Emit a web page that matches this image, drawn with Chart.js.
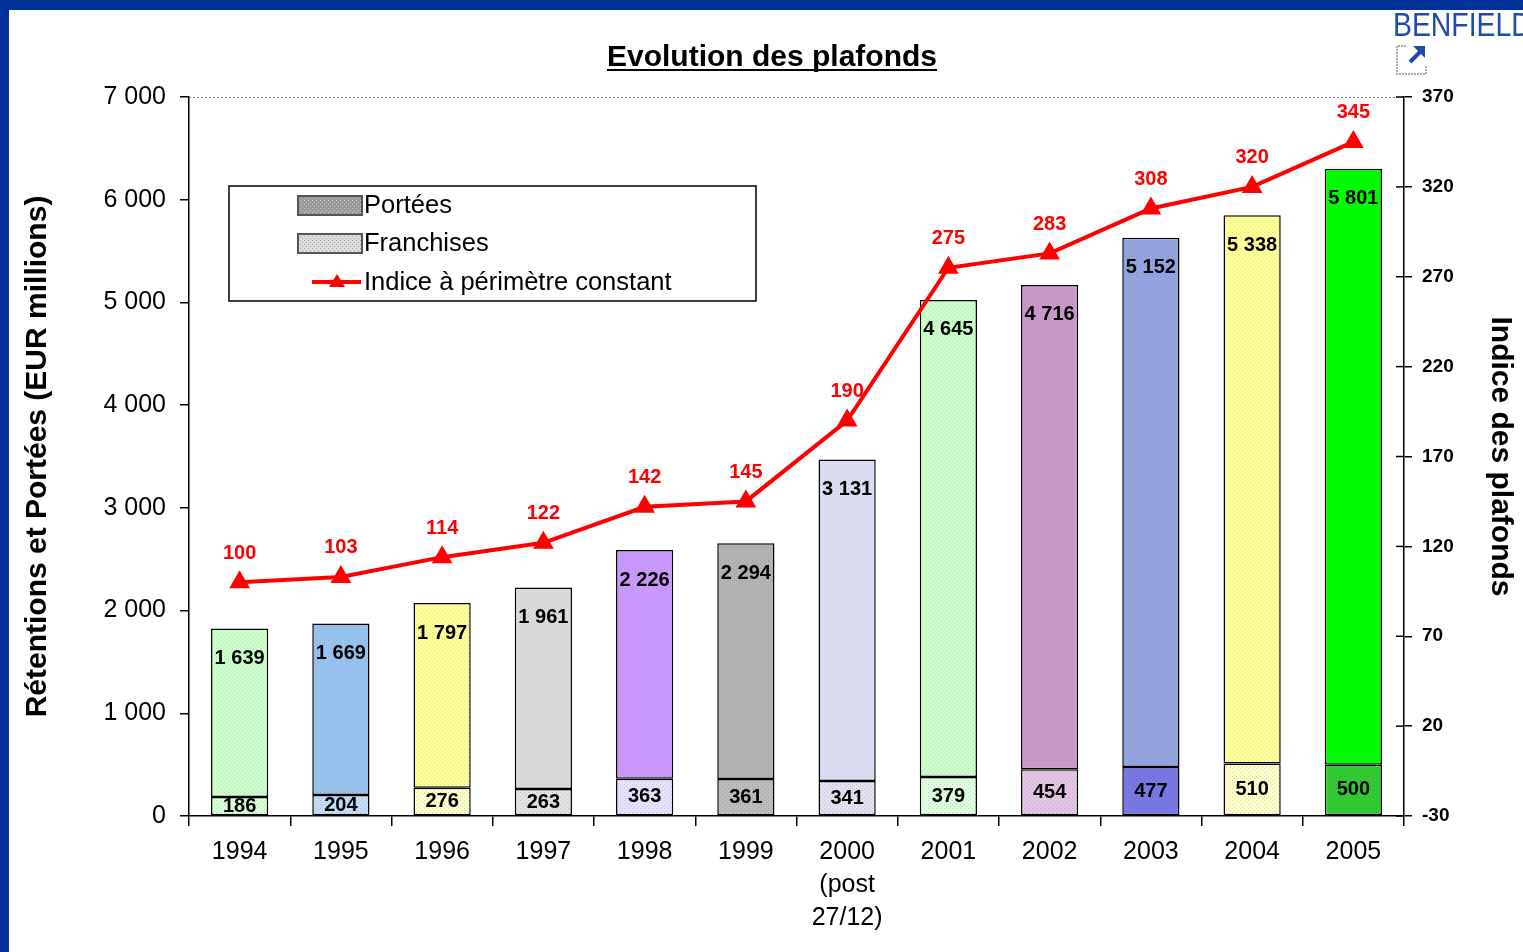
<!DOCTYPE html>
<html>
<head>
<meta charset="utf-8">
<script src="https://cdn.jsdelivr.net/npm/chart.js@4"></script>
<style>
  html, body { margin: 0; padding: 0; background: #fff; }
  canvas { display: block; }
</style>
</head>
<body>
<canvas id="chart" width="1523" height="952"></canvas>
<script>
// --- DATA ---
const years = ["1994", "1995", "1996", "1997", "1998", "1999", ["2000", "(post", "27/12)"], "2001", "2002", "2003", "2004", "2005"];
const franchises = [186, 204, 276, 263, 363, 361, 341, 379, 454, 477, 510, 500];
const portees = [1639, 1669, 1797, 1961, 2226, 2294, 3131, 4645, 4716, 5152, 5338, 5801];
const indice = [100, 103, 114, 122, 142, 145, 190, 275, 283, 308, 320, 345];

// couleurs de chaque barre (haut = portées, bas = franchises)
const topColors = ["#ccffcc", "#99c4f0", "#ffff99", "#dcdcdc", "#cc99ff", "#b4b4b4", "#dcdff5", "#ccffcc", "#cc99cc", "#94a6e0", "#ffff99", "#00ff00"];
const bottomColors = ["#d8ffd8", "#c4ddf8", "#ffffcc", "#e2e2e2", "#e8e2ff", "#bdbdbd", "#e2e2f2", "#e0ffe0", "#e6c6e6", "#7a7ae6", "#ffffcc", "#33cc33"];

const FONT = "'Liberation Sans', Arial, sans-serif";

// petit motif pointillé comme dans Excel
function pattern(bg, dot) {
  const c = document.createElement("canvas");
  c.width = 4;
  c.height = 4;
  const g = c.getContext("2d");
  g.fillStyle = bg;
  g.fillRect(0, 0, 4, 4);
  g.fillStyle = dot;
  g.fillRect(0, 0, 1, 1);
  g.fillRect(2, 2, 1, 1);
  return g.createPattern(c, "repeat");
}
function shade(hex, f) {
  const n = parseInt(hex.slice(1), 16);
  const r = Math.round(((n >> 16) & 255) * f);
  const gg = Math.round(((n >> 8) & 255) * f);
  const b = Math.round((n & 255) * f);
  return "rgb(" + r + "," + gg + "," + b + ")";
}

const fmt = (v) => String(v).replace(/\B(?=(\d{3})+(?!\d))/g, " ");

// --- PLUGIN: décor, titre, légende, étiquettes ---
const decor = {
  id: "decor",
  beforeDraw(chart) {
    const ctx = chart.ctx;
    ctx.save();
    ctx.fillStyle = "#fff";
    ctx.fillRect(0, 0, chart.width, chart.height);
    ctx.fillStyle = "#003399";
    ctx.fillRect(0, 0, chart.width, 10);
    ctx.fillRect(0, 0, 9, chart.height);
    ctx.restore();
  },
  afterDraw(chart) {
    const ctx = chart.ctx;
    const area = chart.chartArea;
    ctx.save();

    // ligne pointillée en haut
    ctx.strokeStyle = "#808080";
    ctx.lineWidth = 1;
    ctx.setLineDash([2, 2]);
    ctx.beginPath();
    ctx.moveTo(area.left, area.top + 0.5);
    ctx.lineTo(area.right, area.top + 0.5);
    ctx.stroke();
    ctx.setLineDash([]);

    // petits traits intérieurs de l'axe droit
    const y1 = chart.scales.y1;
    ctx.strokeStyle = "#000";
    ctx.lineWidth = 1.5;
    y1.ticks.forEach((t) => {
      const py = y1.getPixelForValue(t.value);
      ctx.beginPath();
      ctx.moveTo(area.right - 8, py);
      ctx.lineTo(area.right, py);
      ctx.stroke();
    });

    // titre
    ctx.fillStyle = "#000";
    ctx.font = "bold 30px " + FONT;
    ctx.textAlign = "center";
    ctx.textBaseline = "alphabetic";
    const title = "Evolution des plafonds";
    ctx.fillText(title, 772, 66);
    const tw = ctx.measureText(title).width;
    ctx.fillRect(772 - tw / 2, 69, tw, 2);

    // logo BENFIELD
    ctx.save();
    ctx.fillStyle = "#1f4aa8";
    ctx.font = "33px " + FONT;
    ctx.textAlign = "left";
    ctx.translate(1393, 36);
    ctx.scale(0.86, 1);
    ctx.fillText("BENFIELD", 0, 0);
    ctx.restore();
    ctx.strokeStyle = "#b0b0a0";
    ctx.lineWidth = 2;
    ctx.setLineDash([2, 1]);
    ctx.beginPath();
    ctx.moveTo(1406, 46);
    ctx.lineTo(1397, 46);
    ctx.lineTo(1397, 74);
    ctx.lineTo(1426, 74);
    ctx.lineTo(1426, 66);
    ctx.stroke();
    ctx.setLineDash([]);
    ctx.strokeStyle = "#1f4aa8";
    ctx.lineWidth = 4;
    ctx.beginPath();
    ctx.moveTo(1410, 62);
    ctx.lineTo(1422, 50);
    ctx.stroke();
    ctx.fillStyle = "#1f4aa8";
    ctx.beginPath();
    ctx.moveTo(1425, 46);
    ctx.lineTo(1425, 58);
    ctx.lineTo(1413, 46);
    ctx.closePath();
    ctx.fill();

    // légende
    ctx.fillStyle = "#fff";
    ctx.fillRect(229, 186, 527, 115);
    ctx.strokeStyle = "#000";
    ctx.lineWidth = 1.5;
    ctx.strokeRect(229, 186, 527, 115);
    ctx.fillStyle = pattern("#9a9a9a", "#c8c8c8");
    ctx.fillRect(298, 196, 64, 19);
    ctx.strokeStyle = "#555";
    ctx.lineWidth = 2;
    ctx.strokeRect(298, 196, 64, 19);
    ctx.fillStyle = pattern("#dddddd", "#a0a0a0");
    ctx.fillRect(298, 234, 64, 19);
    ctx.strokeRect(298, 234, 64, 19);
    ctx.strokeStyle = "#ff0000";
    ctx.lineWidth = 4;
    ctx.beginPath();
    ctx.moveTo(312, 282);
    ctx.lineTo(361, 282);
    ctx.stroke();
    ctx.fillStyle = "#ff0000";
    ctx.beginPath();
    ctx.moveTo(337, 274);
    ctx.lineTo(345, 287);
    ctx.lineTo(329, 287);
    ctx.closePath();
    ctx.fill();
    ctx.fillStyle = "#000";
    ctx.font = "25.5px " + FONT;
    ctx.textAlign = "left";
    ctx.textBaseline = "middle";
    ctx.fillText("Portées", 364, 206);
    ctx.fillText("Franchises", 364, 244);
    ctx.fillText("Indice à périmètre constant", 364, 283);

    // étiquettes des barres
    ctx.font = "bold 20px " + FONT;
    ctx.textAlign = "center";
    ctx.textBaseline = "middle";
    chart.getDatasetMeta(0).data.forEach((bar, i) => {
      ctx.fillText(fmt(franchises[i]), bar.x, (bar.y + bar.base) / 2);
    });
    chart.getDatasetMeta(1).data.forEach((bar, i) => {
      ctx.fillText(fmt(portees[i]), bar.x, bar.y + 30);
    });

    // étiquettes de l'indice
    ctx.fillStyle = "#ff0000";
    chart.getDatasetMeta(2).data.forEach((pt, i) => {
      ctx.fillText(String(indice[i]), pt.x, pt.y - 29);
    });
    ctx.restore();
  },
};

const ctx = document.getElementById("chart").getContext("2d");
new Chart(ctx, {
  data: {
    labels: years,
    datasets: [
      {
        type: "bar",
        label: "Franchises",
        data: franchises,
        backgroundColor: bottomColors.map((c) => pattern(c, shade(c, 0.85))),
        borderColor: "#000",
        borderWidth: 1.5,
        borderSkipped: false,
        categoryPercentage: 1,
        barPercentage: 0.565,
        yAxisID: "y",
        order: 2,
      },
      {
        type: "bar",
        label: "Portées",
        data: portees,
        backgroundColor: topColors.map((c) => pattern(c, shade(c, 0.88))),
        borderColor: "#000",
        borderWidth: 1.5,
        borderSkipped: false,
        categoryPercentage: 1,
        barPercentage: 0.565,
        yAxisID: "y",
        order: 2,
      },
      {
        type: "line",
        label: "Indice à périmètre constant",
        data: indice,
        borderColor: "#ff0000",
        backgroundColor: "#ff0000",
        borderWidth: 4,
        pointStyle: "triangle",
        pointRadius: 8,
        pointBackgroundColor: "#ff0000",
        pointBorderColor: "#ff0000",
        tension: 0,
        yAxisID: "y1",
        order: 1,
      },
    ],
  },
  options: {
    responsive: false,
    animation: false,
    layout: { padding: { top: 97, left: 0, right: 0, bottom: 0 } },
    plugins: { legend: { display: false }, tooltip: { enabled: false } },
    scales: {
      x: {
        stacked: true,
        offset: true,
        grid: { offset: true, drawOnChartArea: false, tickLength: 10, color: "#000", lineWidth: 1.5 },
        border: { color: "#000", width: 1.5 },
        ticks: { color: "#000", font: { family: FONT, size: 25, lineHeight: 1.32 }, padding: 10, maxRotation: 0, autoSkip: false },
        afterFit(s) { s.height = 136; },
      },
      y: {
        stacked: true,
        position: "left",
        min: 0,
        max: 7000,
        ticks: { stepSize: 1000, color: "#000", font: { family: FONT, size: 25 }, padding: 14, callback: (v) => fmt(v) },
        grid: { drawOnChartArea: false, tickLength: 9, color: "#000", lineWidth: 1.5 },
        border: { color: "#000", width: 1.5 },
        title: { display: true, text: "Rétentions et Portées (EUR millions)", color: "#000", font: { family: FONT, size: 30, weight: "bold" }, padding: { top: 20, bottom: 0 } },
        afterFit(s) { s.width = 189; },
      },
      y1: {
        position: "right",
        min: -30,
        max: 370,
        ticks: { stepSize: 50, color: "#000", font: { family: FONT, size: 19, weight: "bold" }, padding: 10 },
        grid: { drawOnChartArea: false, tickLength: 8, color: "#000", lineWidth: 1.5 },
        border: { color: "#000", width: 1.5 },
        title: { display: true, text: "Indice des plafonds", color: "#000", font: { family: FONT, size: 30, weight: "bold" }, padding: { top: 5, bottom: 0 } },
        afterFit(s) { s.width = 119; },
      },
    },
  },
  plugins: [decor],
});
</script>
</body>
</html>
